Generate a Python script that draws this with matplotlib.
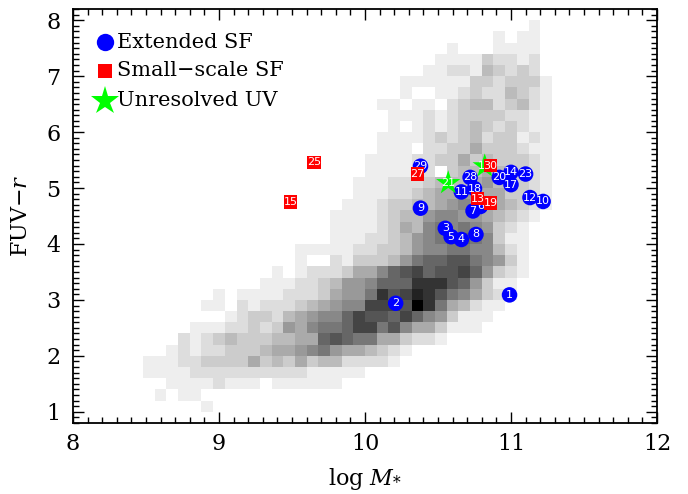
import numpy as np
import matplotlib
matplotlib.use("Agg")
import matplotlib.pyplot as plt
from matplotlib.colors import LinearSegmentedColormap

plt.rcParams['font.family'] = ['DejaVu Serif']
plt.rcParams['mathtext.fontset'] = 'dejavuserif'

# ---- background 2D histogram (density level 0-15, hex digit per bin) ----
# bins: x from 8.0 with width 0.08 (index k), y rows with width 0.2 (lower edge given)
HIST_X0, HIST_DX, HIST_NX = 8.0, 0.08, 50
HIST_Y0, HIST_DY, HIST_NY = 0.8, 0.2, 37
hist_rows = [
    (7.8, 39, "1"),
    (7.6, 36, "1.11"),
    (7.4, 32, "1...1111"),
    (7.2, 31, "111132212"),
    (7.0, 30, "1122143232"),
    (6.8, 28, "1111113323331"),
    (6.6, 28, "1..1123224321"),
    (6.4, 26, "11.11.234423421"),
    (6.2, 27, "11121233332211"),
    (6.0, 27, "1.121234323211"),
    (5.8, 26, "111123234233121"),
    (5.6, 26, "111.22335333211"),
    (5.4, 25, "1111223353433321"),
    (5.2, 25, "111112.344544321"),
    (5.0, 24, "11122234445644321"),
    (4.8, 24, "11122345566553321"),
    (4.6, 23, "111233445676654321"),
    (4.4, 22, "111123446776654321"),
    (4.2, 22, "11112354787876321"),
    (4.0, 22, "11122346789987311"),
    (3.8, 19, "11111223346778877421"),
    (3.6, 19, "1..2133346899aa87631"),
    (3.4, 17, "1.122235579ab9aab96321"),
    (3.2, 16, "1112234667999ccca96311"),
    (3.0, 12, "1.111122235668cabdca875321"),
    (2.8, 11, "11.21222345677bbbafc854211"),
    (2.6, 13, "12332456779baa9b9763111"),
    (2.4, 10, "11122323657889bb8a7553111"),
    (2.2, 9, "2123433344559a988553221"),
    (2.0, 8, "121223334556786554321"),
    (1.8, 6, "1112233335343534422221"),
    (1.6, 6, "1111222222222211111"),
    (1.4, 8, "11112111.111111"),
    (1.2, 7, "1.11"),
    (1.0, 11, "1"),
]

# ---- galaxies ----
ext_x = [10.99, 10.21, 10.55, 10.66, 10.59, 10.79, 10.74, 10.76, 10.38, 11.22,
         10.66, 11.13, 11.00, 11.00, 10.75, 10.92, 11.10, 10.72, 10.38]
ext_y = [3.09, 2.94, 4.28, 4.08, 4.13, 4.67, 4.59, 4.17, 4.64, 4.76,
         4.93, 4.83, 5.28, 5.06, 4.99, 5.19, 5.25, 5.19, 5.39]
ext_id = ["1", "2", "3", "4", "5", "6", "7", "8", "9", "10",
          "11", "12", "14", "17", "18", "20", "23", "28", "29"]

ss_x = [10.77, 9.49, 10.86, 9.65, 10.36, 10.86]
ss_y = [4.81, 4.75, 4.73, 5.46, 5.25, 5.40]
ss_id = ["13", "15", "19", "25", "27", "30"]

un_x = [10.57, 10.82]
un_y = [5.09, 5.39]
un_id = ["21", "16"]

legend_labels = ["Extended SF", "Small\u2212scale SF", "Unresolved UV"]

# ---- figure ----
W, H = 688, 494
fig = plt.figure(figsize=(W / 100, H / 100), dpi=100)
ax = fig.add_axes([73 / W, 1 - 423 / H, (657 - 73) / W, (423 - 9) / H])

Z = np.zeros((HIST_NY, HIST_NX))
for v_low, k0, s in hist_rows:
    j = int(round((v_low - HIST_Y0) / HIST_DY))
    for i, ch in enumerate(s):
        if ch != '.':
            Z[j, k0 + i] = int(ch, 16)
Z = np.ma.masked_equal(Z, 0)
xe = HIST_X0 + HIST_DX * np.arange(HIST_NX + 1)
ye = HIST_Y0 + HIST_DY * np.arange(HIST_NY + 1)
cmap = LinearSegmentedColormap.from_list("wb", ["#ffffff", "#000000"])
ax.pcolormesh(xe, ye, Z, cmap=cmap, vmin=0, vmax=15, shading='flat', zorder=1)

lab_kw = dict(color='white', fontsize=8, ha='center', va='center',
              family='DejaVu Sans')
ax.scatter(ext_x, ext_y, s=125, marker='o', color='#0000ff', edgecolors='none', zorder=3)
for x, y, t in zip(ext_x, ext_y, ext_id):
    ax.text(x, y, t, zorder=4, **lab_kw)
ax.scatter(un_x, un_y, s=340, marker='*', color='#00ff00', edgecolors='none', zorder=5)
for x, y, t in zip(un_x, un_y, un_id):
    ax.text(x, y, t, zorder=6, **lab_kw)
for x, y, t in zip(ss_x, ss_y, ss_id):
    ax.scatter([x], [y], s=95, marker='s', color='#ff0000', edgecolors='none', zorder=7)
    ax.text(x, y, t, zorder=8, **lab_kw)

# legend (manual)
lx = (105 - 73) / 584
tx = (117 - 73) / 584
for ly, mk, col, ms, lab in [((423 - 42) / 414, 'o', '#0000ff', 12.5, legend_labels[0]),
                              ((423 - 71) / 414, 's', '#ff0000', 10.5, legend_labels[1]),
                              ((423 - 101) / 414, '*', '#00ff00', 21, legend_labels[2])]:
    ax.plot([lx], [ly], marker=mk, color=col, markersize=ms, markeredgewidth=0,
            linestyle='none', transform=ax.transAxes, zorder=9)
    ax.text(tx, ly, lab, transform=ax.transAxes, fontsize=15, va='center', ha='left',
            zorder=9)

ax.set_xlim(8, 12)
ax.set_ylim(0.8, 8.2)
ax.set_xticks([8, 9, 10, 11, 12])
ax.set_yticks([1, 2, 3, 4, 5, 6, 7, 8])
ax.set_xticks(np.arange(8, 12.001, 0.1), minor=True)
ax.set_yticks(np.arange(0.8, 8.201, 0.1), minor=True)
ax.tick_params(which='both', direction='in', top=True, right=True, width=1)
ax.tick_params(which='major', length=8, labelsize=16)
ax.tick_params(axis='x', which='major', pad=7)
ax.tick_params(axis='y', which='major', pad=9)
ax.tick_params(which='minor', length=4)
for sp in ax.spines.values():
    sp.set_linewidth(1.3)

ax.set_xlabel(r'log $M_{*}$', fontsize=16, labelpad=8)
ax.set_ylabel(r'FUV$-r$', fontsize=16, labelpad=10)

fig.savefig("out.png", dpi=100)
